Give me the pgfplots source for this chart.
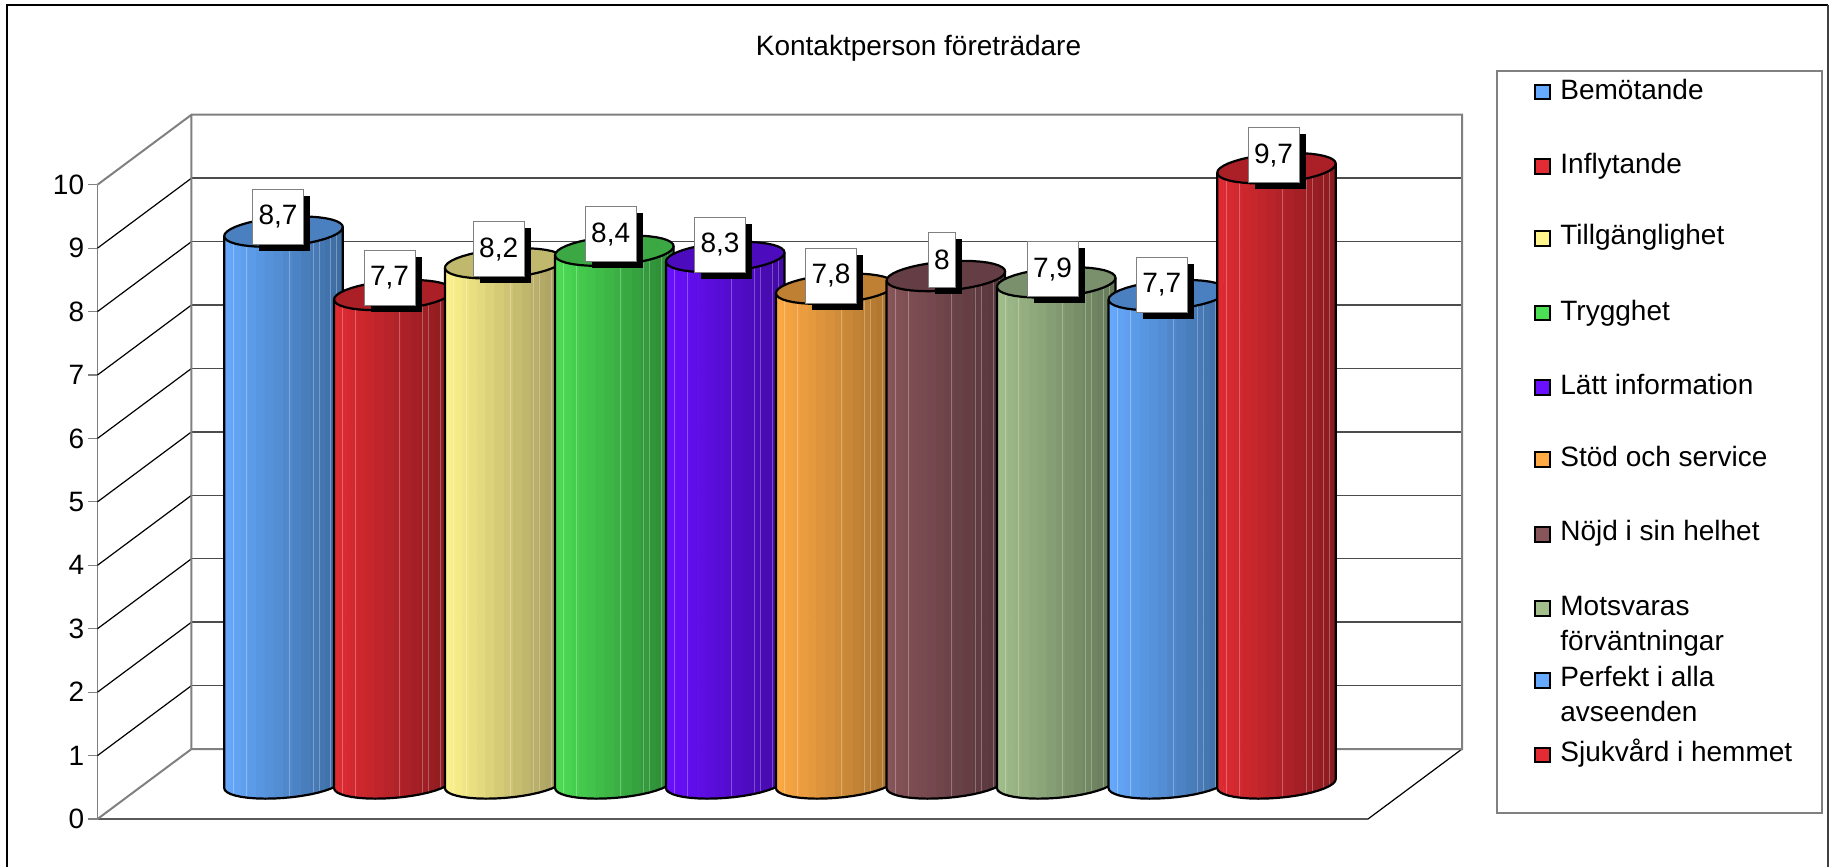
\documentclass[border=0pt]{standalone}
\usepackage{fontspec}
\setmainfont{Liberation Sans}
\usepackage{pgfplots}
\usepackage{pgfplotstable}
\pgfplotsset{compat=1.18}

% one reference pixel = 0.5pt, y axis = 63.46 px per unit
\newcommand{\py}[1]{(819-(#1))/63.46}

\definecolor{cBlue}{RGB}{102,170,255}
\definecolor{cRed}{RGB}{226,43,51}
\definecolor{cYellow}{RGB}{255,245,140}
\definecolor{cGreen}{RGB}{76,222,84}
\definecolor{cPurple}{RGB}{106,15,255}
\definecolor{cOrange}{RGB}{255,170,68}
\definecolor{cMaroon}{RGB}{136,85,90}
\definecolor{cSage}{RGB}{163,191,140}
\definecolor{topBlue}{RGB}{74,128,192}
\definecolor{topRed}{RGB}{170,32,38}
\definecolor{topYellow}{RGB}{192,184,108}
\definecolor{topGreen}{RGB}{60,168,68}
\definecolor{topPurple}{RGB}{76,12,190}
\definecolor{topOrange}{RGB}{192,128,52}
\definecolor{topMaroon}{RGB}{100,62,68}
\definecolor{topSage}{RGB}{122,144,108}

\pgfplotsset{
  colormap={mBlue}{rgb255=(102,170,255) rgb255=(61,107,160)},
  colormap={mRed}{rgb255=(226,43,51) rgb255=(138,27,32)},
  colormap={mYellow}{rgb255=(255,245,140) rgb255=(165,155,95)},
  colormap={mGreen}{rgb255=(76,222,84) rgb255=(44,135,54)},
  colormap={mPurple}{rgb255=(106,15,255) rgb255=(66,10,165)},
  colormap={mOrange}{rgb255=(255,170,68) rgb255=(168,114,48)},
  colormap={mMaroon}{rgb255=(136,85,90) rgb255=(84,52,58)},
  colormap={mSage}{rgb255=(163,191,140) rgb255=(100,120,88)},
}

% cylinder geometry: u across, s along the depth, r=1 top / r=0 base
\pgfplotstableread{
u s r
-1.0000 0.0000 1
-0.9877 -0.1564 1
-0.9511 -0.3090 1
-0.8910 -0.4540 1
-0.8090 -0.5878 1
-0.7071 -0.7071 1
-0.5878 -0.8090 1
-0.4540 -0.8910 1
-0.3090 -0.9511 1
-0.1564 -0.9877 1
0.0000 -1.0000 1
0.1564 -0.9877 1
0.3090 -0.9511 1
0.4540 -0.8910 1
0.5878 -0.8090 1
0.7071 -0.7071 1
0.8090 -0.5878 1
0.8910 -0.4540 1
0.9511 -0.3090 1
0.9877 -0.1564 1
1.0000 0.0000 1
-1.0000 0.0000 0
-0.9877 -0.1564 0
-0.9511 -0.3090 0
-0.8910 -0.4540 0
-0.8090 -0.5878 0
-0.7071 -0.7071 0
-0.5878 -0.8090 0
-0.4540 -0.8910 0
-0.3090 -0.9511 0
-0.1564 -0.9877 0
0.0000 -1.0000 0
0.1564 -0.9877 0
0.3090 -0.9511 0
0.4540 -0.8910 0
0.5878 -0.8090 0
0.7071 -0.7071 0
0.8090 -0.5878 0
0.8910 -0.4540 0
0.9511 -0.3090 0
0.9877 -0.1564 0
1.0000 0.0000 0
}\bodytab

\pgfplotstableread{
u s r
-1.0000 0.0000 1
-0.9877 -0.1564 1
-0.9511 -0.3090 1
-0.8910 -0.4540 1
-0.8090 -0.5878 1
-0.7071 -0.7071 1
-0.5878 -0.8090 1
-0.4540 -0.8910 1
-0.3090 -0.9511 1
-0.1564 -0.9877 1
0.0000 -1.0000 1
0.1564 -0.9877 1
0.3090 -0.9511 1
0.4540 -0.8910 1
0.5878 -0.8090 1
0.7071 -0.7071 1
0.8090 -0.5878 1
0.8910 -0.4540 1
0.9511 -0.3090 1
0.9877 -0.1564 1
1.0000 0.0000 1
0.9877 0.1564 1
0.9511 0.3090 1
0.8910 0.4540 1
0.8090 0.5878 1
0.7071 0.7071 1
0.5878 0.8090 1
0.4540 0.8910 1
0.3090 0.9511 1
0.1564 0.9877 1
0.0000 1.0000 1
-0.1564 0.9877 1
-0.3090 0.9511 1
-0.4540 0.8910 1
-0.5878 0.8090 1
-0.7071 0.7071 1
-0.8090 0.5878 1
-0.8910 0.4540 1
-0.9511 0.3090 1
-0.9877 0.1564 1
-1.0000 0.0000 1
}\rimtab

\pgfplotstableread{
u s r
-1.0000 0.0000 1
-1.0000 0.0000 0
-0.9877 -0.1564 0
-0.9511 -0.3090 0
-0.8910 -0.4540 0
-0.8090 -0.5878 0
-0.7071 -0.7071 0
-0.5878 -0.8090 0
-0.4540 -0.8910 0
-0.3090 -0.9511 0
-0.1564 -0.9877 0
0.0000 -1.0000 0
0.1564 -0.9877 0
0.3090 -0.9511 0
0.4540 -0.8910 0
0.5878 -0.8090 0
0.7071 -0.7071 0
0.8090 -0.5878 0
0.8910 -0.4540 0
0.9511 -0.3090 0
0.9877 -0.1564 0
1.0000 0.0000 0
1.0000 0.0000 1
}\siltab

% faint vertical seams on the cylinder body
\pgfplotstableread{
u s r
-0.85 -0.527 1
-0.85 -0.527 0
nan nan nan
-0.63 -0.777 1
-0.63 -0.777 0
nan nan nan
0.10 -0.995 1
0.10 -0.995 0
nan nan nan
0.50 -0.866 1
0.50 -0.866 0
nan nan nan
0.60 -0.800 1
0.60 -0.800 0
nan nan nan
0.80 -0.600 1
0.80 -0.600 0
nan nan nan
0.90 -0.436 1
0.90 -0.436 0
}\seamtab

% #1 centre x, #2 value, #3 top colour, #4 colormap
\newcommand{\cyl}[4]{
  \addplot[surf, shader=flat, mesh/rows=2, colormap name=#4,
    point meta=\thisrow{u}, point meta min=-1, point meta max=1]
    table[x expr=#1+59.3*\thisrow{u},
      y expr=0.56+\thisrow{r}*#2+0.0709*\thisrow{u}+0.2285*\thisrow{s}] {\bodytab};
  \addplot[draw=white, draw opacity=0.28, line width=0.5pt]
    table[x expr=#1+59.3*\thisrow{u},
      y expr=0.56+\thisrow{r}*#2+0.0709*\thisrow{u}+0.2285*\thisrow{s}] {\seamtab};
  \addplot[draw=black, line width=1.1pt, fill=#3]
    table[x expr=#1+59.3*\thisrow{u},
      y expr=0.56+#2+0.0709*\thisrow{u}+0.2285*\thisrow{s}] {\rimtab};
  \addplot[draw=black, line width=1.1pt]
    table[x expr=#1+59.3*\thisrow{u},
      y expr=0.56+\thisrow{r}*#2+0.0709*\thisrow{u}+0.2285*\thisrow{s}] {\siltab};
}

% #1 centre x px, #2 centre y px, #3 box width px, #4 text
\newcommand{\lab}[4]{
  \node[fill=black, inner sep=0pt, minimum width=#3*0.5pt, minimum height=27.5pt]
    at (axis cs:#1+6.5,{\py{#2+6.5}}) {};
  \node[fill=white, draw=gray, line width=0.5pt, inner sep=0pt,
    minimum width=#3*0.5pt, minimum height=27.5pt]
    at (axis cs:#1,{\py{#2}}) {\raisebox{1pt}{#4}};
}

% #1 marker value height, #2 colour
\newcommand{\legm}[2]{
  \addplot[only marks, mark=square*, mark size=3.7pt,
    mark options={draw=black, fill=#2, line width=1pt}] coordinates {(1542.7,#1)};
}
\newcommand{\legt}[2]{
  \node[anchor=base west, inner sep=0pt] at (axis cs:1560,{\py{#1}}) {#2};
}

\begin{document}
\begin{tikzpicture}[font=\fontsize{14}{17}\selectfont]
\useasboundingbox (-48.75pt,-24pt) rectangle (868.75pt,409.5pt);
\begin{axis}[
  scale only axis,
  width=635.25pt,
  height=317.15pt,
  xmin=97.5, xmax=1368,
  ymin=0, ymax=10,
  clip=false,
  axis x line=none,
  axis y line*=left,
  y axis line style={draw=gray, line width=0.9pt},
  ytick={0,1,...,10},
  tick align=outside,
  major tick length=4.5pt,
  ytick style={draw=gray, line width=0.6pt},
  /pgf/number format/assume math mode=true,
  yticklabel style={font=\fontsize{14}{17}\selectfont, inner xsep=2pt},
  unbounded coords=jump,
]
% outer frame and title
\draw[line width=1pt, black] (axis cs:7.5,{\py{867}}) -- (axis cs:7.5,{\py{5}})
  -- (axis cs:1828,{\py{5}});
\draw[line width=1pt, black!75] (axis cs:1828,{\py{5}}) -- (axis cs:1828,{\py{867}});
\node[anchor=base] at (axis cs:918.5,{\py{55}}) {Kontaktperson företrädare};

% side wall, floor
\addplot[draw=black, line width=0.6pt] coordinates {
  (97.5,1)(191.5,2.103) (nan,nan)
  (97.5,2)(191.5,3.103) (nan,nan)
  (97.5,3)(191.5,4.103) (nan,nan)
  (97.5,4)(191.5,5.103) (nan,nan)
  (97.5,5)(191.5,6.103) (nan,nan)
  (97.5,6)(191.5,7.103) (nan,nan)
  (97.5,7)(191.5,8.103) (nan,nan)
  (97.5,8)(191.5,9.103) (nan,nan)
  (97.5,9)(191.5,10.103) (nan,nan)
  (97.5,0)(1368,0)(1462,1.103)
};
% back wall grid
\addplot[draw=black!70, line width=0.7pt] coordinates {
  (191.5,2.103)(1462,2.103) (nan,nan)
  (191.5,3.103)(1462,3.103) (nan,nan)
  (191.5,4.103)(1462,4.103) (nan,nan)
  (191.5,5.103)(1462,5.103) (nan,nan)
  (191.5,6.103)(1462,6.103) (nan,nan)
  (191.5,7.103)(1462,7.103) (nan,nan)
  (191.5,8.103)(1462,8.103) (nan,nan)
  (191.5,9.103)(1462,9.103) (nan,nan)
  (191.5,10.103)(1462,10.103)
};
\addplot[draw=gray, line width=1pt] coordinates {
  (97.5,0)(191.5,1.103)(1462,1.103)(1462,11.103)(191.5,11.103)(97.5,10)
  (nan,nan) (191.5,1.103)(191.5,11.103)
};

% cylinders
\cyl{283.5}{8.7}{topBlue}{mBlue}
\cyl{393.3}{7.7}{topRed}{mRed}
\cyl{504.2}{8.2}{topYellow}{mYellow}
\cyl{614.3}{8.4}{topGreen}{mGreen}
\cyl{725.2}{8.3}{topPurple}{mPurple}
\cyl{835.2}{7.8}{topOrange}{mOrange}
\cyl{945.8}{8}{topMaroon}{mMaroon}
\cyl{1056.2}{7.9}{topSage}{mSage}
\cyl{1167.8}{7.7}{topBlue}{mBlue}
\cyl{1276.5}{9.7}{topRed}{mRed}

% value labels
\lab{278}{216.5}{51}{8,7}
\lab{389.5}{277.7}{51}{7,7}
\lab{498.7}{249}{51}{8,2}
\lab{610.7}{234}{51}{8,4}
\lab{720}{244.7}{51}{8,3}
\lab{831}{275.5}{51}{7,8}
\lab{942}{260}{27}{8}
\lab{1052.5}{269}{51}{7,9}
\lab{1161.7}{284.3}{51}{7,7}
\lab{1273.5}{155}{51}{9,7}

% legend
\draw[draw=gray, line width=0.9pt, fill=white]
  (axis cs:1497.3,{\py{70.7}}) rectangle (axis cs:1821.7,{\py{812.7}});
\legm{11.461}{cBlue}
\legm{10.290}{cRed}
\legm{9.151}{cYellow}
\legm{7.978}{cGreen}
\legm{6.803}{cPurple}
\legm{5.668}{cOrange}
\legm{4.491}{cMaroon}
\legm{3.320}{cSage}
\legm{2.186}{cBlue}
\legm{1.009}{cRed}
\legt{99}{Bemötande}
\legt{173.3}{Inflytande}
\legt{244.3}{Tillgänglighet}
\legt{320}{Trygghet}
\legt{394.3}{Lätt information}
\legt{466}{Stöd och service}
\legt{540.7}{Nöjd i sin helhet}
\legt{615}{Motsvaras}
\legt{650}{förväntningar}
\legt{686.7}{Perfekt i alla}
\legt{721.7}{avseenden}
\legt{761.7}{Sjukvård i hemmet}
\end{axis}
\end{tikzpicture}
\end{document}
